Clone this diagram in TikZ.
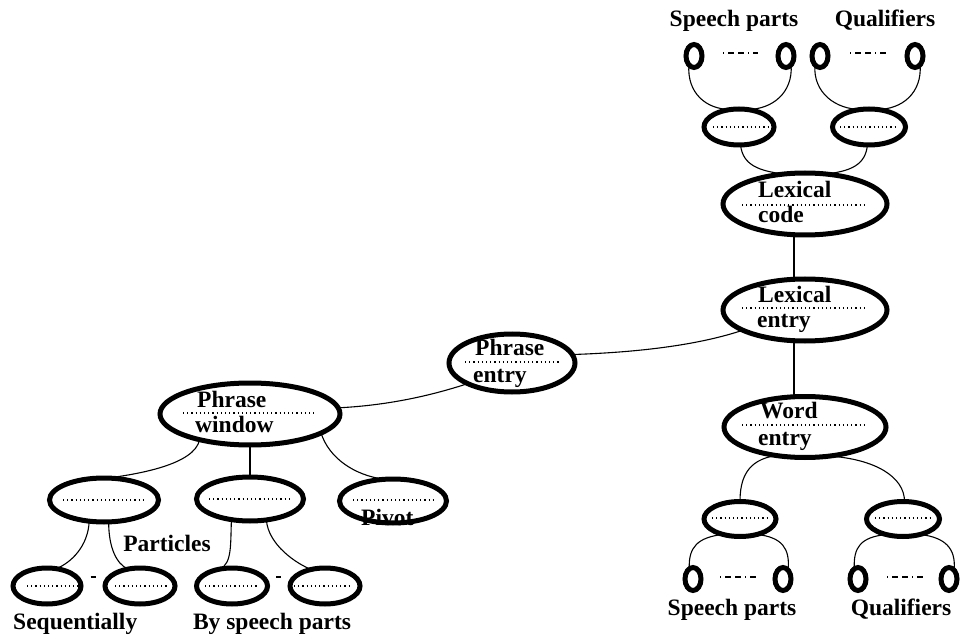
\documentclass[tikz,border=0pt]{standalone}
\usepackage{fontspec}
\setmainfont{Liberation Serif}
\usetikzlibrary{shapes.geometric,calc}
\tikzset{
  oval/.style={draw, ellipse, line width=5pt, inner sep=0pt, outer sep=0pt},
  ring/.style={draw, ellipse, line width=5pt, inner sep=0pt, outer sep=0pt,
               minimum width=16pt, minimum height=23pt},
  dots/.style={line width=1.1pt, dash pattern=on 1.1pt off 3.1pt},
  conn/.style={line width=1.1pt},
  ddline/.style={line width=1.2pt, dash pattern=on 1.2pt off 4pt on 6pt off 4pt on 6pt off 4pt},
  tick/.style={line width=1.6pt},
  lbl/.style={inner sep=0pt, font=\bfseries\fontsize{23.5}{26}\selectfont},
}
\begin{document}
\begin{tikzpicture}[x=1pt, y=-1pt]
\useasboundingbox[fill=white] (0,0) rectangle (961,636);

% ---- lexical branch ----
\node[oval, minimum width=164pt, minimum height=62pt] (lc) at (805,204) {};
\node[lbl, anchor=base west] (lc1) at (758,198) {Lexical};
\node[lbl, anchor=base west] (lc2) at (758,223) {code};
\draw[dots] (742,205) -- (867,205);

\node[oval, minimum width=164pt, minimum height=62pt] (le) at (805,310) {};
\node[lbl, anchor=base west] (le1) at (758,302) {Lexical};
\node[lbl, anchor=base west] (le2) at (757,327) {entry};
\draw[dots] (742,308) -- (867,308);

\node[oval, minimum width=162pt, minimum height=61pt] (we) at (805,427) {};
\node[lbl, anchor=base west] (we1) at (760,418) {Word};
\node[lbl, anchor=base west] (we2) at (758,445) {entry};
\draw[dots] (742,425) -- (867,425);

% code parts
\node[oval, minimum width=70pt, minimum height=36pt] (m1) at (739,127) {};
\node[oval, minimum width=73pt, minimum height=36pt] (m2) at (869,127) {};
\draw[dots] (713,127) -- (768,127);
\draw[dots] (840,127) -- (897,127);

\node[ring] (o1) at (694,56) {};
\node[ring] (o2) at (786,56) {};
\node[ring] (o3) at (820,56) {};
\node[ring] (o4) at (915,56) {};
\draw[ddline] (723,53) -- (758,53);
\draw[ddline] (850,53) -- (886,53);
\node[lbl, anchor=base] (t1) at (734,27) {Speech parts};
\node[lbl, anchor=base] (t2) at (885,27) {Qualifiers};

% word parts
\node[oval, minimum width=72pt, minimum height=35pt] (n1) at (740,519) {};
\node[oval, minimum width=73pt, minimum height=35pt] (n2) at (903,519) {};
\draw[dots] (712,518) -- (767,518);
\draw[dots] (875,518) -- (931,518);

\node[ring] (p1) at (693,579) {};
\node[ring] (p2) at (783,579) {};
\node[ring] (p3) at (858,579) {};
\node[ring] (p4) at (949,579) {};
\draw[ddline] (720,577) -- (757,577);
\draw[ddline] (887,577) -- (923,577);
\node[lbl, anchor=base] (b1) at (732,615) {Speech parts};
\node[lbl, anchor=base] (b2) at (901,615) {Qualifiers};

% ---- phrase branch ----
\node[oval, minimum width=126pt, minimum height=58pt] (pe) at (512,363) {};
\node[lbl, anchor=base west] (pe1) at (475,355) {Phrase};
\node[lbl, anchor=base west] (pe2) at (473,382) {entry};
\draw[dots] (465,362) -- (560,362);

\node[oval, minimum width=180pt, minimum height=62pt] (pw) at (250,414) {};
\node[lbl, anchor=base west] (pw1) at (197,407) {Phrase};
\node[lbl, anchor=base west] (pw2) at (195,432) {window};
\draw[dots] (183,413) -- (315,413);

\node[oval, minimum width=109pt, minimum height=44pt] (c1) at (104,500) {};
\node[oval, minimum width=107pt, minimum height=44pt] (c2) at (250,499) {};
\node[oval, minimum width=107pt, minimum height=44pt] (c3) at (393,501) {};
\draw[dots] (63,500) -- (145,500);
\draw[dots] (209,499) -- (290,499);
\draw[dots] (353,500) -- (435,500);
\node[lbl, anchor=base west] (pv) at (361,525) {Pivot};
\node[lbl, anchor=base] (pa) at (167,551) {Particles};

\node[oval, minimum width=68pt, minimum height=36pt] (g1) at (47,586) {};
\node[oval, minimum width=70pt, minimum height=36pt] (g2) at (140,586) {};
\node[oval, minimum width=71pt, minimum height=36pt] (g3) at (232,586) {};
\node[oval, minimum width=70pt, minimum height=36pt] (g4) at (325,586) {};
\draw[dots] (27,586) -- (80,586);
\draw[dots] (115,586) -- (167,586);
\draw[dots] (205,586) -- (258,586);
\draw[dots] (294,586) -- (349,586);
% short ticks between neighbouring leaves
\coordinate (k1) at ($(g1.east)!0.5!(g2.west) + (0,-9)$);
\coordinate (k2) at ($(g3.east)!0.5!(g4.west) + (0,-9)$);
\draw[tick] ([xshift=-2.5pt]k1) -- ([xshift=2.5pt]k1);
\draw[tick] ([xshift=-2.5pt]k2) -- ([xshift=2.5pt]k2);
\node[lbl, anchor=base west] (s1) at (13,629) {Sequentially};
\node[lbl, anchor=base] (s2) at (272,629) {By speech parts};

% ---- connectors ----
\draw[conn] ([xshift=-11pt]lc.south) -- ([xshift=-11pt]le.north);
\draw[conn] ([xshift=-11pt]le.south) -- ([xshift=-11pt]we.north);

\draw[conn] (o1.240) .. controls +(-2,28) and +(-25,0) .. (m1.115);
\draw[conn] (o2.300) .. controls +(2,28) and +(25,0) .. (m1.65);
\draw[conn] (o3.240) .. controls +(-2,28) and +(-25,0) .. (m2.115);
\draw[conn] (o4.300) .. controls +(2,28) and +(25,0) .. (m2.65);
\draw[conn] (m1.275) .. controls +(2,20) and +(-25,-3) .. (lc.125);
\draw[conn] (m2.265) .. controls +(-2,20) and +(25,-3) .. (lc.55);

\draw[conn] (we.225) .. controls +(-30,4) and +(0,-22) .. (n1.north);
\draw[conn] (we.310) .. controls +(45,3) and +(0,-25) .. (n2.85);
\draw[conn] (n1.222) .. controls +(-25,3) and +(-1,-22) .. (p1.110);
\draw[conn] (n1.318) .. controls +(25,3) and +(2,-22) .. (p2.60);
\draw[conn] (n2.222) .. controls +(-25,3) and +(-1,-22) .. (p3.110);
\draw[conn] (n2.318) .. controls +(25,3) and +(2,-22) .. (p4.60);

\draw[conn] (pe.8) .. controls +(90,-3) and +(-30,10) .. (le.198);
\draw[conn] (pw.4) .. controls +(60,-3) and +(-25,8) .. (pe.205);

\draw[conn] (pw.207) .. controls +(-5,25) and +(30,-4) .. (c1.80);
\draw[conn] (pw.south) -- (c2.north);
\draw[conn] (pw.-15) .. controls +(8,25) and +(-30,-4) .. (c3.112);

\draw[conn] (c1.235) .. controls +(-1,25) and +(15,-6) .. (g1.62);
\draw[conn] (c1.282) .. controls +(0,25) and +(-12,-5) .. (g2.125);
\draw[conn] (c2.228) .. controls +(-1,25) and +(12,-6) .. (g3.125);
\draw[conn] (c2.308) .. controls +(2,25) and +(-15,-6) .. (g4.130);
\end{tikzpicture}
\end{document}
